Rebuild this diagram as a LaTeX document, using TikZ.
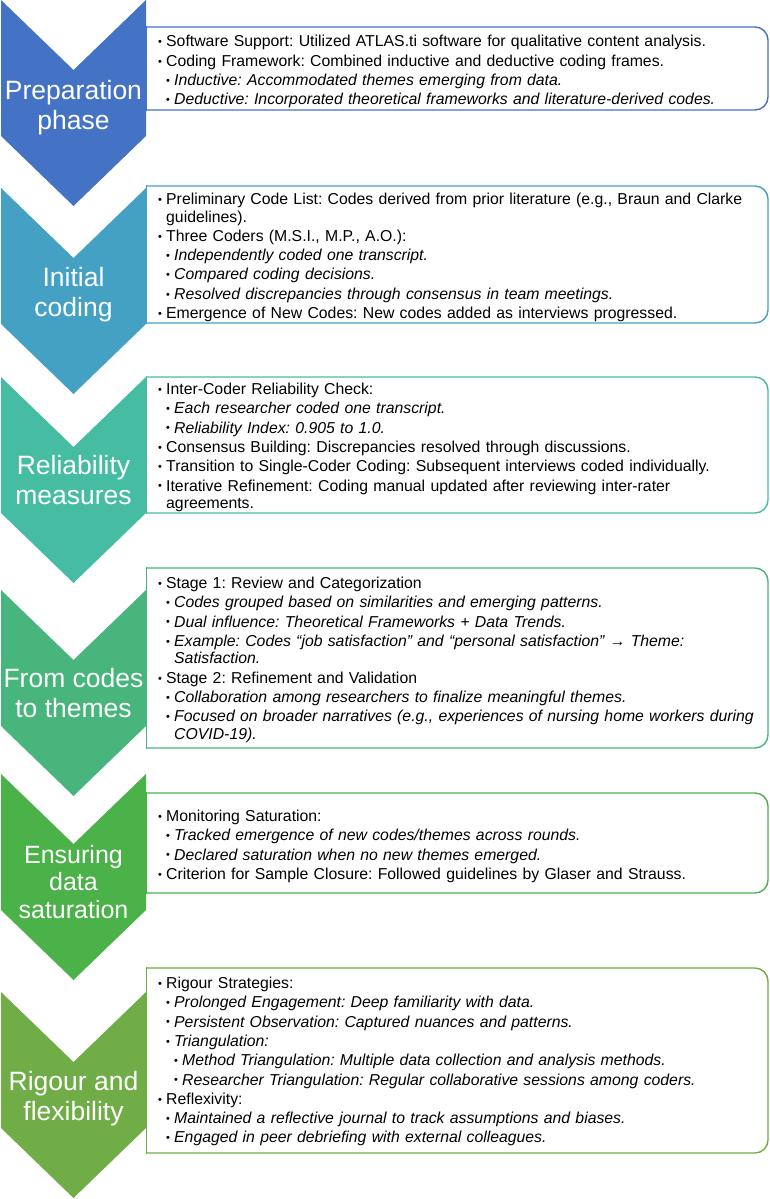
\documentclass[tikz,border=0pt]{standalone}
\usepackage{fontspec}
\setmainfont{Liberation Sans}
\definecolor{cA}{HTML}{4472C4}
\definecolor{cB}{HTML}{44A1C4}
\definecolor{cC}{HTML}{46BDA3}
\definecolor{cD}{HTML}{47B57C}
\definecolor{cE}{HTML}{4BB149}
\definecolor{cF}{HTML}{70AD47}
\newcommand\Bul{\makebox[8pt][l]{\raisebox{1.2pt}{\fontsize{11}{11}\selectfont\upshape\textbullet}}}
\newcommand\bA[1]{\par\hangindent=8pt\hangafter=1\noindent\strut\Bul#1\par}
\newcommand\bB[1]{\par\hangindent=16pt\hangafter=1\noindent\strut\hspace*{8pt}\Bul\textit{#1}\par}
\newcommand\bC[1]{\par\hangindent=24pt\hangafter=1\noindent\strut\hspace*{16pt}\Bul\textit{#1}\par}
\newcommand\Chev[2]{\fill[#2] (1,#1) -- (73.5,#1+70) -- (146,#1) -- (146,#1+136) -- (73.5,#1+206) -- (1,#1+136) -- cycle;}
\newcommand\Panel[3]{%
  \draw[draw=#3, line width=1.4pt, rounded corners=13pt] (146.5,#1) -- (768,#1) -- (768,#2) -- (146.5,#2);
  \draw[draw=#3, line width=1.4pt] (146.5,#1-0.7) -- (146.5,#2+0.7);}
\frenchspacing
\begin{document}
\begin{tikzpicture}[x=1pt,y=-1pt,
  lbl/.style={text=white, align=center, font=\fontsize{26.5}{30}\selectfont, inner sep=0pt},
  body/.style={anchor=north west, inner sep=0pt, text width=640pt, align=left,
    font=\fontsize{15.8}{17.5}\selectfont\frenchspacing, execute at begin node={\setlength\parskip{1.8pt}}}]
\useasboundingbox (0,0) rectangle (770,1199);
% frames
\Panel{27}{110}{cA}
\Panel{186}{323}{cB}
\Panel{377}{513}{cC}
\Panel{568}{748}{cD}
\Panel{793}{893}{cE}
\Panel{968}{1153}{cF}
% chevrons
\Chev{0}{cA}
\Chev{188}{cB}
\Chev{377}{cC}
\Chev{590}{cD}
\Chev{774}{cE}
\Chev{992}{cF}
% chevron labels
\node[lbl] (l1) at (73.5,108) {Preparation\\phase};
\node[lbl] (l2) at (73.5,295) {Initial\\coding};
\node[lbl] (l3) at (73.5,480) {Reliability\\measures};
\node[lbl] (l4) at (73.5,693) {From codes\\to themes};
\node[lbl, font=\fontsize{25}{27.5}\selectfont] (l5) at (73.5,882) {Ensuring\\data\\saturation};
\node[lbl] (l6) at (73.5,1099) {Rigour and\\flexibility};
% texts
\node[body] (t1) at (158,27.5) {%
\bA{Software Support: Utilized ATLAS.ti software for qualitative content analysis.}
\bA{Coding Framework: Combined inductive and deductive coding frames.}
\bB{Inductive: Accommodated themes emerging from data.}
\bB{Deductive: Incorporated theoretical frameworks and literature-derived codes.}};
\node[body] (t2) at (158,185) {%
\bA{Preliminary Code List: Codes derived from prior literature (e.g., Braun and Clarke\newline guidelines).}
\bA{Three Coders (M.S.I., M.P., A.O.):}
\bB{Independently coded one transcript.}
\bB{Compared coding decisions.}
\bB{Resolved discrepancies through consensus in team meetings.}
\bA{Emergence of New Codes: New codes added as interviews progressed.}};
\node[body] (t3) at (158,375) {%
\bA{Inter-Coder Reliability Check:}
\bB{Each researcher coded one transcript.}
\bB{Reliability Index: 0.905 to 1.0.}
\bA{Consensus Building: Discrepancies resolved through discussions.}
\bA{Transition to Single-Coder Coding: Subsequent interviews coded individually.}
\bA{Iterative Refinement: Coding manual updated after reviewing inter-rater\newline agreements.}};
\node[body] (t4) at (158,569) {%
\bA{Stage 1: Review and Categorization}
\bB{Codes grouped based on similarities and emerging patterns.}
\bB{Dual influence: Theoretical Frameworks + Data Trends.}
\bB{Example: Codes “job satisfaction” and “personal satisfaction” → Theme:\newline Satisfaction.}
\bA{Stage 2: Refinement and Validation}
\bB{Collaboration among researchers to finalize meaningful themes.}
\bB{Focused on broader narratives (e.g., experiences of nursing home workers during\newline COVID-19).}};
\node[body] (t5) at (158,802) {%
\bA{Monitoring Saturation:}
\bB{Tracked emergence of new codes/themes across rounds.}
\bB{Declared saturation when no new themes emerged.}
\bA{Criterion for Sample Closure: Followed guidelines by Glaser and Strauss.}};
\node[body] (t6) at (158,969) {%
\bA{Rigour Strategies:}
\bB{Prolonged Engagement: Deep familiarity with data.}
\bB{Persistent Observation: Captured nuances and patterns.}
\bB{Triangulation:}
\bC{Method Triangulation: Multiple data collection and analysis methods.}
\bC{Researcher Triangulation: Regular collaborative sessions among coders.}
\bA{Reflexivity:}
\bB{Maintained a reflective journal to track assumptions and biases.}
\bB{Engaged in peer debriefing with external colleagues.}};
\end{tikzpicture}
\end{document}
